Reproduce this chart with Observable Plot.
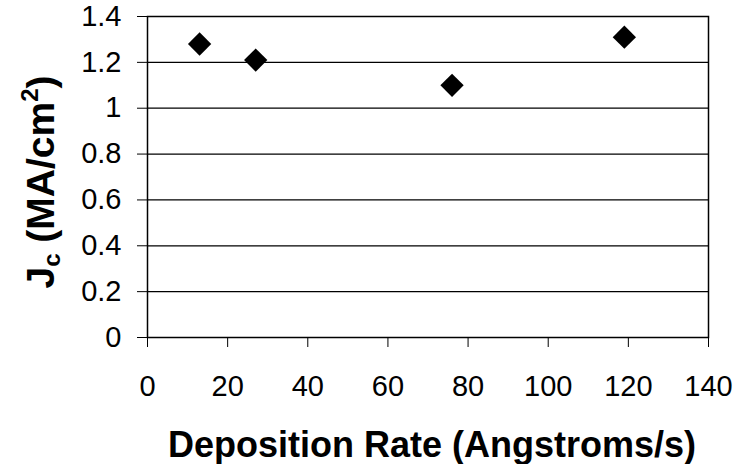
<!DOCTYPE html>
<html>
<head>
<meta charset="utf-8">
<script src="https://cdn.jsdelivr.net/npm/d3@7"></script>
<script src="https://cdn.jsdelivr.net/npm/@observablehq/plot@0.6"></script>
<style>
  html, body { margin: 0; padding: 0; background: #fff; }
</style>
</head>
<body>
<div id="chart"></div>
<script>
const depositionRate = [13, 27, 76, 119];
const jc = [1.28, 1.21, 1.10, 1.31];
const xTicks = [0, 20, 40, 60, 80, 100, 120, 140];
const yTicks = [0, 0.2, 0.4, 0.6, 0.8, 1, 1.2, 1.4];
const xTitle = "Deposition Rate (Angstroms/s)";

const data = depositionRate.map((x, i) => ({x, y: jc[i]}));
const fmt = d => String(+d.toFixed(1));

const plot = Plot.plot({
  width: 737,
  height: 464,
  marginLeft: 147,
  marginRight: 29,
  marginTop: 16,
  marginBottom: 127,
  style: {fontFamily: "'Liberation Sans', Arial, sans-serif", background: "#fff", color: "#000"},
  x: {domain: [0, 140]},
  y: {domain: [0, 1.4]},
  marks: [
    Plot.ruleY(yTicks, {stroke: "#000", strokeWidth: 1.2}),
    Plot.frame({stroke: "#000", strokeWidth: 1.5}),
    Plot.axisX({ticks: xTicks, tickSize: 10, tickPadding: 28, fontSize: 29, tickFormat: fmt, label: null, stroke: "#000"}),
    Plot.axisY({ticks: yTicks, tickSize: 10, tickPadding: 16, fontSize: 29, tickFormat: fmt, label: null, stroke: "#000"}),
    Plot.dot(data, {x: "x", y: "y", symbol: "diamond2", r: 10.5, fill: "#000", stroke: "none"})
  ]
});

const svg = d3.select(plot);
svg.append("text")
  .attr("x", 432).attr("y", 457)
  .attr("text-anchor", "middle")
  .attr("font-weight", "bold")
  .attr("font-size", 36)
  .attr("font-family", "'Liberation Sans', Arial, sans-serif")
  .text(xTitle);

const yl = svg.append("text")
  .attr("transform", "translate(54,182) rotate(-90)")
  .attr("text-anchor", "middle")
  .attr("font-weight", "bold")
  .attr("font-size", 39)
  .attr("font-family", "'Liberation Sans', Arial, sans-serif");
yl.append("tspan").text("J");
yl.append("tspan").attr("font-size", 24).attr("dy", 6).text("c");
yl.append("tspan").attr("dy", -6).text(" (MA/cm");
yl.append("tspan").attr("font-size", 24).attr("dy", -16).text("2");
yl.append("tspan").attr("dy", 16).text(")");

document.getElementById("chart").appendChild(plot);
</script>
</body>
</html>
